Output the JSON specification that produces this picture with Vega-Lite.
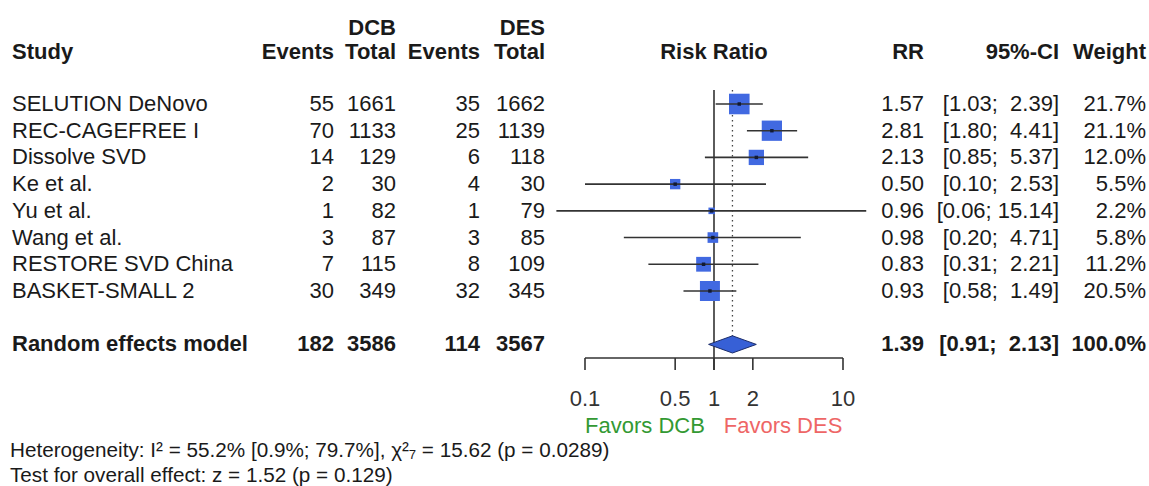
{
  "$schema": "https://vega.github.io/schema/vega-lite/v6.json",
  "width": 1149,
  "height": 486,
  "autosize": "none",
  "padding": 0,
  "background": "white",
  "config": {
    "view": {"stroke": null},
    "axis": {"disable": true},
    "text": {"font": "Liberation Sans", "fontSize": 22, "color": "#1a1a1a", "baseline": "middle"}
  },
  "data": {"values": [{}]},
  "datasets": {
    "studies": [
      {"row": 0, "study": "SELUTION DeNovo", "e1": 55, "n1": 1661, "e2": 35, "n2": 1662, "rr": 1.57, "lo": 1.03, "hi": 2.39, "weight": 21.7, "rr_txt": "1.57", "ci_txt": "[1.03;\u00a0\u00a02.39]", "w_txt": "21.7%"},
      {"row": 1, "study": "REC-CAGEFREE I", "e1": 70, "n1": 1133, "e2": 25, "n2": 1139, "rr": 2.81, "lo": 1.80, "hi": 4.41, "weight": 21.1, "rr_txt": "2.81", "ci_txt": "[1.80;\u00a0\u00a04.41]", "w_txt": "21.1%"},
      {"row": 2, "study": "Dissolve SVD", "e1": 14, "n1": 129, "e2": 6, "n2": 118, "rr": 2.13, "lo": 0.85, "hi": 5.37, "weight": 12.0, "rr_txt": "2.13", "ci_txt": "[0.85;\u00a0\u00a05.37]", "w_txt": "12.0%"},
      {"row": 3, "study": "Ke et al.", "e1": 2, "n1": 30, "e2": 4, "n2": 30, "rr": 0.50, "lo": 0.10, "hi": 2.53, "weight": 5.5, "rr_txt": "0.50", "ci_txt": "[0.10;\u00a0\u00a02.53]", "w_txt": "5.5%"},
      {"row": 4, "study": "Yu et al.", "e1": 1, "n1": 82, "e2": 1, "n2": 79, "rr": 0.96, "lo": 0.06, "hi": 15.14, "weight": 2.2, "rr_txt": "0.96", "ci_txt": "[0.06;\u00a015.14]", "w_txt": "2.2%"},
      {"row": 5, "study": "Wang et al.", "e1": 3, "n1": 87, "e2": 3, "n2": 85, "rr": 0.98, "lo": 0.20, "hi": 4.71, "weight": 5.8, "rr_txt": "0.98", "ci_txt": "[0.20;\u00a0\u00a04.71]", "w_txt": "5.8%"},
      {"row": 6, "study": "RESTORE SVD China", "e1": 7, "n1": 115, "e2": 8, "n2": 109, "rr": 0.83, "lo": 0.31, "hi": 2.21, "weight": 11.2, "rr_txt": "0.83", "ci_txt": "[0.31;\u00a0\u00a02.21]", "w_txt": "11.2%"},
      {"row": 7, "study": "BASKET-SMALL 2", "e1": 30, "n1": 349, "e2": 32, "n2": 345, "rr": 0.93, "lo": 0.58, "hi": 1.49, "weight": 20.5, "rr_txt": "0.93", "ci_txt": "[0.58;\u00a0\u00a01.49]", "w_txt": "20.5%"}
    ],
    "summary": [
      {"row": 9, "study": "Random effects model", "e1": 182, "n1": 3586, "e2": 114, "n2": 3567, "rr": 1.39, "lo": 0.91, "hi": 2.13, "weight": 100.0, "rr_txt": "1.39", "ci_txt": "[0.91;\u00a0\u00a02.13]", "w_txt": "100.0%"}
    ],
    "ticks": [
      {"v": 0.1, "label": "0.1"},
      {"v": 0.5, "label": "0.5"},
      {"v": 1, "label": "1"},
      {"v": 2, "label": "2"},
      {"v": 10, "label": "10"}
    ]
  },
  "layer": [
    {
      "mark": {"type": "rule", "color": "#333333", "strokeWidth": 1.6},
      "encoding": {
        "x": {"datum": 1, "type": "quantitative", "scale": {"type": "log", "domain": [0.1, 10], "range": [585, 843], "nice": false}},
        "y": {"datum": -0.52, "type": "quantitative", "scale": {"type": "linear", "domain": [0, 9], "range": [104, 344.4], "nice": false, "zero": false}},
        "y2": {"datum": 9.96}
      }
    },
    {
      "data": {"name": "summary"},
      "mark": {"type": "rule", "color": "#444444", "strokeWidth": 1.3, "strokeDash": [1.5, 3.5]},
      "encoding": {
        "x": {"field": "rr", "type": "quantitative"},
        "y": {"datum": -0.52, "type": "quantitative"},
        "y2": {"datum": 9}
      }
    },
    {
      "data": {"name": "studies"},
      "mark": {"type": "square", "color": "#4169E1", "opacity": 1},
      "encoding": {
        "x": {"field": "rr", "type": "quantitative"},
        "y": {"field": "row", "type": "quantitative"},
        "size": {"field": "weight", "type": "quantitative", "scale": {"type": "linear", "domain": [0, 100], "range": [0, 1950]}, "legend": null}
      }
    },
    {
      "data": {"name": "studies"},
      "mark": {"type": "rule", "color": "#333333", "strokeWidth": 1.6},
      "encoding": {
        "x": {"field": "lo", "type": "quantitative"},
        "x2": {"field": "hi"},
        "y": {"field": "row", "type": "quantitative"}
      }
    },
    {
      "data": {"name": "studies"},
      "mark": {"type": "square", "color": "#111a33", "size": 12, "opacity": 1},
      "encoding": {
        "x": {"field": "rr", "type": "quantitative"},
        "y": {"field": "row", "type": "quantitative"}
      }
    },
    {
      "data": {"name": "summary"},
      "mark": {"type": "point", "shape": "M-1,0L0,-0.36L1,0L0,0.36Z", "filled": true, "fill": "#3760d6", "stroke": "#1c2d6b", "strokeWidth": 1, "size": 2275, "opacity": 1},
      "encoding": {
        "x": {"field": "rr", "type": "quantitative"},
        "y": {"field": "row", "type": "quantitative"}
      }
    },
    {
      "mark": {"type": "rule", "color": "#333333", "strokeWidth": 1.6},
      "encoding": {
        "x": {"datum": 0.1, "type": "quantitative"},
        "x2": {"datum": 10},
        "y": {"datum": 9.51, "type": "quantitative"}
      }
    },
    {
      "data": {"name": "ticks"},
      "mark": {"type": "rule", "color": "#333333", "strokeWidth": 1.6},
      "encoding": {
        "x": {"field": "v", "type": "quantitative"},
        "y": {"datum": 9.51, "type": "quantitative"},
        "y2": {"datum": 9.96}
      }
    },
    {
      "data": {"name": "ticks"},
      "mark": {"type": "text", "align": "center", "color": "#333333"},
      "encoding": {
        "x": {"field": "v", "type": "quantitative"},
        "y": {"datum": 11.05, "type": "quantitative"},
        "text": {"field": "label"}
      }
    },
    {
      "mark": {"type": "text", "align": "right", "color": "#339933"},
      "encoding": {
        "x": {"datum": 0.85, "type": "quantitative"},
        "y": {"datum": 12.05, "type": "quantitative"},
        "text": {"value": "Favors DCB"}
      }
    },
    {
      "mark": {"type": "text", "align": "left", "color": "#ee6666"},
      "encoding": {
        "x": {"datum": 1.19, "type": "quantitative"},
        "y": {"datum": 12.05, "type": "quantitative"},
        "text": {"value": "Favors DES"}
      }
    },
    {"mark": {"type": "text", "align": "left", "x": 12, "fontWeight": "bold"}, "encoding": {"y": {"datum": -1.95, "type": "quantitative"}, "text": {"value": "Study"}}},
    {"mark": {"type": "text", "align": "right", "x": 334, "fontWeight": "bold"}, "encoding": {"y": {"datum": -1.95, "type": "quantitative"}, "text": {"value": "Events"}}},
    {"mark": {"type": "text", "align": "right", "x": 396, "fontWeight": "bold"}, "encoding": {"y": {"datum": -1.95, "type": "quantitative"}, "text": {"value": "Total"}}},
    {"mark": {"type": "text", "align": "right", "x": 480, "fontWeight": "bold"}, "encoding": {"y": {"datum": -1.95, "type": "quantitative"}, "text": {"value": "Events"}}},
    {"mark": {"type": "text", "align": "right", "x": 545, "fontWeight": "bold"}, "encoding": {"y": {"datum": -1.95, "type": "quantitative"}, "text": {"value": "Total"}}},
    {"mark": {"type": "text", "align": "right", "x": 396, "fontWeight": "bold"}, "encoding": {"y": {"datum": -2.85, "type": "quantitative"}, "text": {"value": "DCB"}}},
    {"mark": {"type": "text", "align": "right", "x": 545, "fontWeight": "bold"}, "encoding": {"y": {"datum": -2.85, "type": "quantitative"}, "text": {"value": "DES"}}},
    {"mark": {"type": "text", "align": "center", "fontWeight": "bold"}, "encoding": {"x": {"datum": 1, "type": "quantitative"}, "y": {"datum": -1.95, "type": "quantitative"}, "text": {"value": "Risk Ratio"}}},
    {"mark": {"type": "text", "align": "right", "x": 924, "fontWeight": "bold"}, "encoding": {"y": {"datum": -1.95, "type": "quantitative"}, "text": {"value": "RR"}}},
    {"mark": {"type": "text", "align": "right", "x": 1059, "fontWeight": "bold"}, "encoding": {"y": {"datum": -1.95, "type": "quantitative"}, "text": {"value": "95%-CI"}}},
    {"mark": {"type": "text", "align": "right", "x": 1146, "fontWeight": "bold"}, "encoding": {"y": {"datum": -1.95, "type": "quantitative"}, "text": {"value": "Weight"}}},

    {"data": {"name": "studies"}, "mark": {"type": "text", "align": "left", "x": 12}, "encoding": {"y": {"field": "row", "type": "quantitative"}, "text": {"field": "study"}}},
    {"data": {"name": "studies"}, "mark": {"type": "text", "align": "right", "x": 334}, "encoding": {"y": {"field": "row", "type": "quantitative"}, "text": {"field": "e1", "type": "quantitative", "format": "d"}}},
    {"data": {"name": "studies"}, "mark": {"type": "text", "align": "right", "x": 396}, "encoding": {"y": {"field": "row", "type": "quantitative"}, "text": {"field": "n1", "type": "quantitative", "format": "d"}}},
    {"data": {"name": "studies"}, "mark": {"type": "text", "align": "right", "x": 480}, "encoding": {"y": {"field": "row", "type": "quantitative"}, "text": {"field": "e2", "type": "quantitative", "format": "d"}}},
    {"data": {"name": "studies"}, "mark": {"type": "text", "align": "right", "x": 545}, "encoding": {"y": {"field": "row", "type": "quantitative"}, "text": {"field": "n2", "type": "quantitative", "format": "d"}}},
    {"data": {"name": "studies"}, "mark": {"type": "text", "align": "right", "x": 924}, "encoding": {"y": {"field": "row", "type": "quantitative"}, "text": {"field": "rr_txt"}}},
    {"data": {"name": "studies"}, "mark": {"type": "text", "align": "right", "x": 1059}, "encoding": {"y": {"field": "row", "type": "quantitative"}, "text": {"field": "ci_txt"}}},
    {"data": {"name": "studies"}, "mark": {"type": "text", "align": "right", "x": 1146}, "encoding": {"y": {"field": "row", "type": "quantitative"}, "text": {"field": "w_txt"}}},

    {"data": {"name": "summary"}, "mark": {"type": "text", "align": "left", "x": 12, "fontWeight": "bold"}, "encoding": {"y": {"field": "row", "type": "quantitative"}, "text": {"field": "study"}}},
    {"data": {"name": "summary"}, "mark": {"type": "text", "align": "right", "x": 334, "fontWeight": "bold"}, "encoding": {"y": {"field": "row", "type": "quantitative"}, "text": {"field": "e1", "type": "quantitative", "format": "d"}}},
    {"data": {"name": "summary"}, "mark": {"type": "text", "align": "right", "x": 396, "fontWeight": "bold"}, "encoding": {"y": {"field": "row", "type": "quantitative"}, "text": {"field": "n1", "type": "quantitative", "format": "d"}}},
    {"data": {"name": "summary"}, "mark": {"type": "text", "align": "right", "x": 480, "fontWeight": "bold"}, "encoding": {"y": {"field": "row", "type": "quantitative"}, "text": {"field": "e2", "type": "quantitative", "format": "d"}}},
    {"data": {"name": "summary"}, "mark": {"type": "text", "align": "right", "x": 545, "fontWeight": "bold"}, "encoding": {"y": {"field": "row", "type": "quantitative"}, "text": {"field": "n2", "type": "quantitative", "format": "d"}}},
    {"data": {"name": "summary"}, "mark": {"type": "text", "align": "right", "x": 924, "fontWeight": "bold"}, "encoding": {"y": {"field": "row", "type": "quantitative"}, "text": {"field": "rr_txt"}}},
    {"data": {"name": "summary"}, "mark": {"type": "text", "align": "right", "x": 1059, "fontWeight": "bold"}, "encoding": {"y": {"field": "row", "type": "quantitative"}, "text": {"field": "ci_txt"}}},
    {"data": {"name": "summary"}, "mark": {"type": "text", "align": "right", "x": 1146, "fontWeight": "bold"}, "encoding": {"y": {"field": "row", "type": "quantitative"}, "text": {"field": "w_txt"}}},

    {"mark": {"type": "text", "align": "left", "x": 10, "fontSize": 20.7}, "encoding": {"y": {"datum": 12.98, "type": "quantitative"}, "text": {"value": "Heterogeneity: I² = 55.2% [0.9%; 79.7%], χ²₇ = 15.62 (p = 0.0289)"}}},
    {"mark": {"type": "text", "align": "left", "x": 10, "fontSize": 20.7}, "encoding": {"y": {"datum": 13.92, "type": "quantitative"}, "text": {"value": "Test for overall effect: z = 1.52 (p = 0.129)"}}}
  ]
}
